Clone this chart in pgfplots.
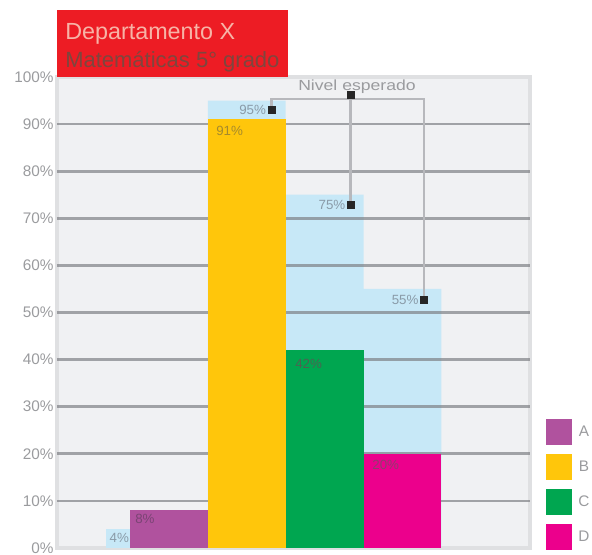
\documentclass[border=0pt]{standalone}
\usepackage{pgfplots}
\pgfplotsset{compat=1.18}
\usepackage{fontspec}
\setmainfont{Liberation Sans}
\usepackage{graphicx}
\definecolor{plotbg}{HTML}{F0F1F3}
\definecolor{borderc}{HTML}{DFE0E2}
\definecolor{gridc}{HTML}{7B7D82}
\definecolor{lblue}{HTML}{C7E8F7}
\definecolor{cA}{HTML}{B0529E}
\definecolor{cB}{HTML}{FFC60B}
\definecolor{cC}{HTML}{00A650}
\definecolor{cD}{HTML}{EC008C}
\definecolor{tickc}{HTML}{9A9B9E}
\definecolor{linec}{HTML}{B7B8BC}
\definecolor{titlered}{HTML}{ED1C24}
\definecolor{titlepink}{HTML}{F7B3A6}
\definecolor{titledark}{HTML}{7E463E}
\definecolor{lblc}{HTML}{8A9BA8}
\definecolor{lblB}{HTML}{A68A2C}
\definecolor{lblC}{HTML}{4A6452}
\definecolor{lblD}{HTML}{8E3E6E}
\definecolor{lblA}{HTML}{7A4474}
\begin{document}
\begin{tikzpicture}
\begin{axis}[
  name=ax,
  width=354.75pt, height=353.25pt, scale only axis,
  xmin=-1.44, xmax=4.64, ymin=0, ymax=100,
  axis background/.style={fill=plotbg},
  axis line style={draw=borderc, line width=3pt},
  xtick=\empty,
  ytick={0,10,...,100},
  yticklabel={\pgfmathprintnumber{\tick}\%},
  yticklabel style={font=\fontsize{11.5}{13}\selectfont, text=tickc, xshift=1pt},
  /pgf/number format/assume math mode=true,
  major tick length=0pt,
  clip=false,
  legend image code/.code={\fill[#1, draw=none] (0pt,-9.75pt) rectangle (19.5pt,9.75pt);},
  legend style={at={(rel axis cs:1.034,0.274)}, anchor=north west, draw=none, fill=none,
    inner sep=0pt, font=\fontsize{11.5}{13}\selectfont, text=tickc,
    row sep=6.75pt, nodes={inner sep=0pt},
    /tikz/every odd column/.append style={column sep=4.5pt}},
]
% expected-level (light blue) areas
\addplot[ybar, bar width=1, bar shift=0pt, fill=lblue, draw=none, forget plot]
  coordinates {(1,95)(2,75)(3,55)};
\addplot[ybar, bar width=0.31, bar shift=0pt, fill=lblue, draw=none, forget plot]
  coordinates {(-0.655,4)};
% grid lines
\pgfplotsinvokeforeach{10,20,...,90}{
  \addplot[gridc, opacity=0.68, line width=2pt, forget plot] coordinates {(-1.44,#1)(4.64,#1)};
}
% actual results
\addplot[ybar, bar width=1, bar shift=0pt, fill=cA, draw=none, forget plot] coordinates {(0,8)};
\addplot[ybar, bar width=1, bar shift=0pt, fill=cB, draw=none, forget plot] coordinates {(1,91)};
\addplot[ybar, bar width=1, bar shift=0pt, fill=cC, draw=none, forget plot] coordinates {(2,42)};
\addplot[ybar, bar width=1, bar shift=0pt, fill=cD, draw=none, forget plot] coordinates {(3,20)};
% connector lines
\addplot[linec, line width=1.8pt, forget plot]
  coordinates {(1.317,93.0)(1.317,95.3)(3.278,95.3)(3.278,52.7)};
\addplot[linec, line width=1.8pt, forget plot]
  coordinates {(2.335,95.3)(2.335,72.8)};
\addplot[only marks, mark=square*, mark size=2.6pt, color=black!85, forget plot]
  coordinates {(1.317,93.0)(2.335,72.8)(3.278,52.7)(2.335,96.2)};
% legend
\addlegendimage{fill=cA}\addlegendentry{A}
\addlegendimage{fill=cB}\addlegendentry{B}
\addlegendimage{fill=cC}\addlegendentry{C}
\addlegendimage{fill=cD}\addlegendentry{D}
% value labels
\begin{scope}[every node/.style={font=\fontsize{10}{12}\selectfont, inner sep=0pt}]
\node[text=lblc] at (axis cs:-0.64,2.1) {4\%};
\node[text=lblA, anchor=west] at (axis cs:-0.437,6.2) {8\%};
\node[text=lblB, anchor=west] at (axis cs:0.604,88.5) {91\%};
\node[text=lblc, anchor=east] at (axis cs:1.25,93.0) {95\%};
\node[text=lblc, anchor=east] at (axis cs:2.27,72.8) {75\%};
\node[text=lblc, anchor=east] at (axis cs:3.21,52.7) {55\%};
\node[text=lblC, anchor=west] at (axis cs:1.62,39.1) {42\%};
\node[text=lblD, anchor=west] at (axis cs:2.61,17.6) {20\%};
\node[text=tickc] at (axis cs:2.416,97.9) {\fontsize{11}{12}\selectfont\scalebox{1.2}[1]{Nivel esperado}};
\end{scope}
% title box
\fill[titlered] (axis cs:-1.44,100) rectangle ([yshift=50.25pt]axis cs:1.53,100);
\node[anchor=base west, inner sep=0pt, text=titlepink, font=\fontsize{17.5}{20}\selectfont]
  at ([xshift=6pt,yshift=27.75pt]rel axis cs:0,1) {Departamento X};
\node[anchor=base west, inner sep=0pt, text=titledark, font=\fontsize{16.5}{19}\selectfont]
  at ([xshift=6pt,yshift=6.75pt]rel axis cs:0,1) {Matemáticas 5° grado};
\coordinate (sw) at (rel axis cs:0,0);
\coordinate (ne) at (rel axis cs:1,1);
\end{axis}
\pgfresetboundingbox
\path[use as bounding box] ([shift={(-42.75pt,-5.25pt)}]sw) rectangle ([shift={(46.5pt,57.75pt)}]ne);
\end{tikzpicture}
\end{document}
